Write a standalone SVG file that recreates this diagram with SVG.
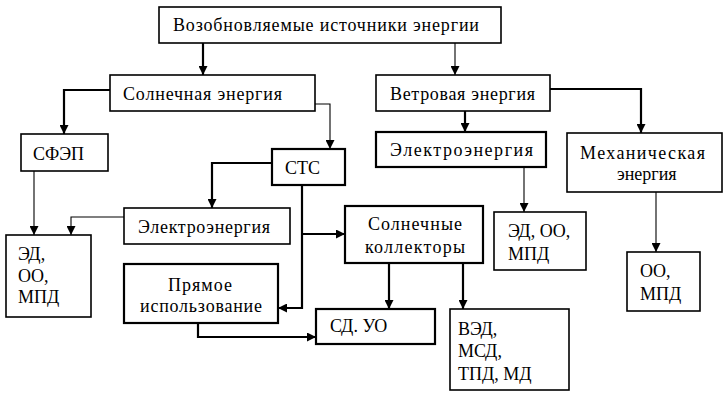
<svg xmlns="http://www.w3.org/2000/svg" width="725" height="414" viewBox="0 0 725 414" font-family="'Liberation Serif', 'DejaVu Serif', serif">
<defs>
<marker id="ah" viewBox="0 0 10 10" refX="10" refY="5" markerWidth="9" markerHeight="9" markerUnits="userSpaceOnUse" orient="auto">
<path d="M0,0 L10,5 L0,10 z" fill="#000"/>
</marker>
</defs>
<style>
rect{fill:#fff;stroke:#000;stroke-width:1.6}
rect.b{stroke-width:2.2}
text{font-size:18px;fill:#000}
#connectors path{fill:none;stroke:#000;marker-end:url(#ah)}
.t{stroke-width:2.2}
.n{stroke-width:1.1}
</style>
<rect x="0" y="0" width="725" height="414" style="fill:#fff;stroke:none"/>
<g id="connectors">
<path class="t" d="M203,43 V75"/>
<path class="n" d="M455,43 V75"/>
<path class="t" d="M110,90 H64 V134"/>
<path class="n" d="M315,104 H330 V149"/>
<path class="t" d="M272,163 H212 V208"/>
<path class="n" d="M34,171 V235"/>
<path class="n" d="M124,217 H71 V235"/>
<path class="t" d="M302,185 V308 H278"/>
<path class="t" d="M302,234 H345"/>
<path class="t" d="M198,323 V337 H316"/>
<path class="t" d="M389,263 V309"/>
<path class="t" d="M463,263 V309"/>
<path class="t" d="M465,111 V132"/>
<path class="t" d="M550,89 H641 V133"/>
<path class="n" d="M524,167 V212"/>
<path class="n" d="M656,192 V252"/>
</g>
<g id="top"><rect x="159" y="7" width="342" height="36"/><text x="173" y="31" textLength="306">Возобновляемые источники энергии</text></g>
<g id="solar"><rect x="110" y="75" width="205" height="36"/><text x="123" y="100" textLength="159">Солнечная энергия</text></g>
<g id="wind"><rect x="376" y="75" width="174" height="36"/><text x="390" y="100" textLength="145">Ветровая энергия</text></g>
<g id="sfep"><rect x="21" y="134" width="87" height="37"/><text x="33" y="160">СФЭП</text></g>
<g id="sts"><rect class="b" x="272" y="149" width="73" height="36"/><text x="285" y="174">СТС</text></g>
<g id="wind-elec"><rect class="b" x="376" y="132" width="170" height="35"/><text x="390" y="156" textLength="143">Электроэнергия</text></g>
<g id="mech"><rect x="567" y="133" width="155" height="59"/><text x="580" y="159" textLength="125">Механическая</text><text x="617" y="180">энергия</text></g>
<g id="solar-elec"><rect x="124" y="208" width="166" height="36"/><text x="138" y="233" textLength="132">Электроэнергия</text></g>
<g id="collectors"><rect class="b" x="345" y="206" width="138" height="57"/><text x="368" y="230" textLength="94">Солнечные</text><text x="365" y="253" textLength="100">коллекторы</text></g>
<g id="ed-left"><rect x="6" y="235" width="85" height="82"/><text x="18" y="260">ЭД,</text><text x="18" y="282">ОО,</text><text x="18" y="303">МПД</text></g>
<g id="ed-mid"><rect x="494" y="212" width="92" height="58"/><text x="508" y="237">ЭД, ОО,</text><text x="508" y="260">МПД</text></g>
<g id="oo-right"><rect x="627" y="252" width="73" height="59"/><text x="640" y="277">ОО,</text><text x="640" y="300">МПД</text></g>
<g id="direct"><rect class="b" x="124" y="264" width="154" height="59"/><text x="168" y="291" textLength="64">Прямое</text><text x="140" y="312" textLength="122">использование</text></g>
<g id="sd"><rect class="b" x="316" y="309" width="119" height="35"/><text x="330" y="332">СД. УО</text></g>
<g id="ved"><rect x="450" y="309" width="119" height="81"/><text x="458" y="335">ВЭД,</text><text x="458" y="357">МСД,</text><text x="458" y="380">ТПД, МД</text></g>
</svg>
